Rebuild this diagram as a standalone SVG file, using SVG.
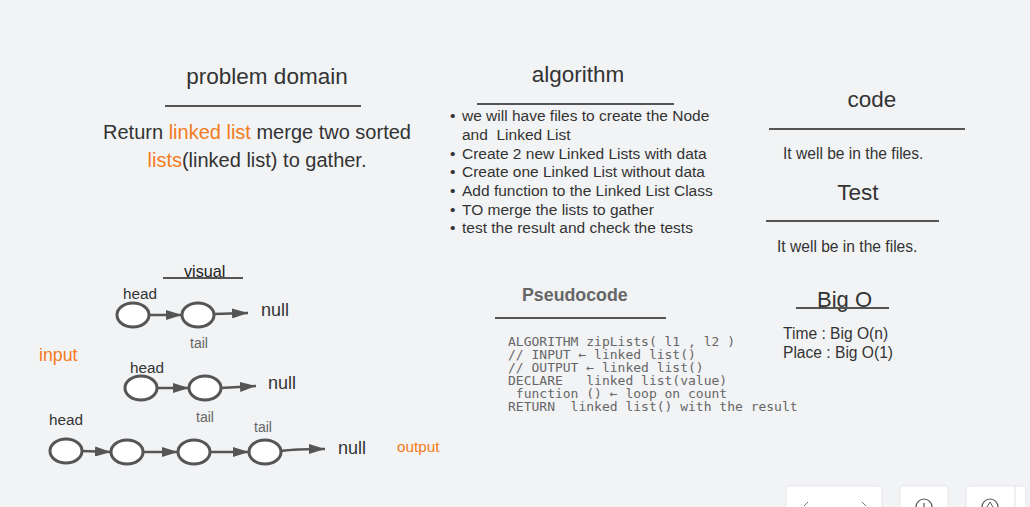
<svg xmlns="http://www.w3.org/2000/svg" width="1030" height="507" viewBox="0 0 1030 507">
<defs>
<marker id="ah" markerWidth="16" markerHeight="10" refX="16" refY="5" orient="auto" markerUnits="userSpaceOnUse">
<path d="M0,0 L16,5 L0,10 Z" fill="#555"/>
</marker>
<style>
text{font-family:"Liberation Sans",Arial,sans-serif;fill:#333}
.t{font-size:22.5px;text-anchor:middle}
.b{font-size:20px}
.s{font-size:15.5px}
.m{font-family:"DejaVu Sans Mono",monospace;font-size:13px;fill:#666;white-space:pre}
.rule{stroke:#555;stroke-width:2}
.nd{fill:#fff;stroke:#555;stroke-width:3}
.ln{stroke:#555;stroke-width:2.5;fill:none;marker-end:url(#ah)}
.lb{font-size:15.3px;fill:#333}
.tl{font-size:14px;fill:#666}
.or{fill:#f47b20}
.sm{font-size:15.6px}
.ui{fill:#fff;stroke:#e6e6ea;stroke-width:1}
</style>
</defs>
<rect width="1030" height="507" fill="#f2f3f5"/>

<g id="problem-domain">
<text class="t" x="267" y="84">problem domain</text>
<line class="rule" x1="165" y1="106" x2="361" y2="106"/>
<text class="b" x="257" y="139" text-anchor="middle">Return <tspan class="or">linked list</tspan> merge two sorted</text>
<text class="b" x="257" y="167" text-anchor="middle"><tspan class="or">lists</tspan>(linked list) to gather.</text>
</g>

<g id="algorithm">
<text class="t" x="578" y="82">algorithm</text>
<line class="rule" x1="477" y1="104" x2="674" y2="104"/>
<g class="s">
<text x="450" y="121">•</text><text x="462" y="121">we will have files to create the Node</text>
<text x="462" y="140">and&#160; Linked List</text>
<text x="450" y="159">•</text><text x="462" y="159">Create 2 new Linked Lists with data</text>
<text x="450" y="177">•</text><text x="462" y="177">Create one Linked List without data</text>
<text x="450" y="196">•</text><text x="462" y="196">Add function to the Linked List Class</text>
<text x="450" y="215">•</text><text x="462" y="215">TO merge the lists to gather</text>
<text x="450" y="233">•</text><text x="462" y="233">test the result and check the tests</text>
</g>
</g>

<g id="code">
<text class="t" x="872" y="107">code</text>
<line class="rule" x1="769" y1="129" x2="965" y2="129"/>
<text class="sm" x="783" y="159">It well be in the files.</text>
</g>

<g id="test">
<text class="t" x="858" y="200">Test</text>
<line class="rule" x1="766" y1="221" x2="939" y2="221"/>
<text class="sm" x="777" y="252">It well be in the files.</text>
</g>

<g id="pseudocode">
<text x="522" y="301" font-size="17.8" font-weight="bold" style="fill:#666">Pseudocode</text>
<line class="rule" x1="495" y1="318" x2="666" y2="318"/>
<text class="m" x="508" y="346">ALGORITHM zipLists( l1 , l2 )</text>
<text class="m" x="508" y="359">// INPUT ← linked list()</text>
<text class="m" x="508" y="372">// OUTPUT ← linked list()</text>
<text class="m" x="508" y="385">DECLARE&#160;&#160; linked list(value)</text>
<text class="m" x="508" y="398">&#160;function () ← loop on count</text>
<text class="m" x="508" y="411">RETURN&#160; linked list() with the result</text>
</g>

<g id="big-o">
<text x="817" y="307" font-size="22">Big O</text>
<line class="rule" x1="796" y1="308" x2="889" y2="308"/>
<text class="sm" x="783" y="339">Time : Big O(n)</text>
<text class="sm" x="783" y="358">Place : Big O(1)</text>
</g>

<g id="visual-title">
<text x="184" y="277" font-size="16.2" style="fill:#222">visual</text>
<line class="rule" x1="163" y1="278" x2="243" y2="278"/>
</g>

<g id="labels">
<text class="lb" x="123" y="299">head</text>
<text class="tl" x="190" y="348">tail</text>
<text class="or" x="39" y="361" font-size="17.8">input</text>
<text class="lb" x="130" y="373">head</text>
<text class="tl" x="196" y="422">tail</text>
<text class="lb" x="49" y="425">head</text>
<text class="tl" x="254" y="432">tail</text>
<text class="or" x="397" y="452" font-size="15.3">output</text>
<text x="261" y="316" font-size="18">null</text>
<text x="268" y="389" font-size="18">null</text>
<text x="338" y="454" font-size="18">null</text>
</g>

<g id="connectors">
<line class="ln" x1="149" y1="315" x2="182" y2="315"/>
<line class="ln" x1="214" y1="314" x2="248" y2="313"/>
<line class="ln" x1="157" y1="388" x2="189" y2="388"/>
<line class="ln" x1="221" y1="388" x2="256" y2="386"/>
<line class="ln" x1="82" y1="451" x2="111" y2="452"/>
<line class="ln" x1="143" y1="452" x2="178" y2="452"/>
<line class="ln" x1="210" y1="452" x2="249" y2="452"/>
<path class="ln" d="M281,451 Q295,449 325,449"/>
</g>

<g id="list1">
<ellipse id="n1a" class="nd" cx="133" cy="315" rx="16" ry="12"/>
<ellipse id="n1b" class="nd" cx="198" cy="315" rx="16" ry="12"/>
</g>
<g id="list2">
<ellipse id="n2a" class="nd" cx="141" cy="388" rx="16" ry="12"/>
<ellipse id="n2b" class="nd" cx="205" cy="388" rx="16" ry="12"/>
</g>
<g id="list3">
<ellipse id="n3a" class="nd" cx="66" cy="451" rx="16" ry="12"/>
<ellipse id="n3b" class="nd" cx="127" cy="452" rx="16" ry="12"/>
<ellipse id="n3c" class="nd" cx="194" cy="452" rx="16" ry="12"/>
<ellipse id="n3d" class="nd" cx="265" cy="452" rx="16" ry="12"/>
</g>

<g id="ui-controls">
<rect class="ui" x="786" y="486" width="96" height="30" rx="3"/>
<path d="M808,502 L804,506 M862,502 L866,506" stroke="#777" stroke-width="1" fill="none"/>
<rect class="ui" x="900" y="486" width="48" height="30" rx="3"/>
<circle cx="924" cy="507" r="8" fill="none" stroke="#555" stroke-width="1.2"/>
<line x1="924" y1="503" x2="924" y2="507" stroke="#555" stroke-width="1.2"/>
<rect class="ui" x="966" y="486" width="60" height="30" rx="3"/>
<circle cx="990" cy="507" r="8" fill="none" stroke="#555" stroke-width="1.2"/>
<path d="M987,507 L990,502 L993,507" fill="none" stroke="#555" stroke-width="1"/>
<line x1="1015" y1="486" x2="1015" y2="507" stroke="#e0e0e4" stroke-width="1"/>
</g>
</svg>
